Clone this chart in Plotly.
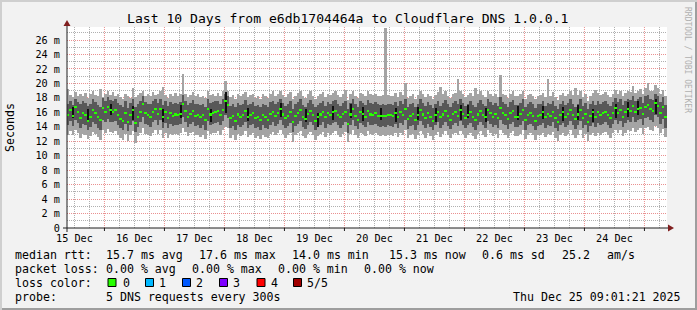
import plotly.graph_objects as go
import pandas as pd

# ---------------- data (hourly buckets, milliseconds) ----------------
median = [
    15.6, 16.3, 15.5, 16.8, 16.0, 15.2, 15.9, 15.6, 14.8, 15.4, 16.3, 15.9,
    15.3, 14.9, 16.6, 16.0, 16.8, 16.3, 16.1, 16.3, 15.6, 15.1, 14.8, 15.9,
    14.6, 15.6, 16.3, 14.5, 15.4, 16.0, 17.2, 15.9, 15.6, 15.4, 16.1, 16.5,
    15.8, 16.4, 15.3, 16.0, 15.2, 15.9, 15.5, 15.7, 15.6, 15.8, 17.1, 16.2,
    15.4, 15.8, 16.2, 15.5, 15.6, 15.3, 15.6, 14.9, 16.4, 15.7, 15.9, 16.0,
    16.2, 15.6, 16.3, 17.6, 17.0, 15.2, 15.5, 14.8, 15.7, 15.4, 15.6, 16.2,
    15.3, 15.6, 15.9, 15.2, 15.4, 14.9, 15.6, 15.3, 15.0, 15.8, 16.1, 15.5,
    15.9, 16.4, 15.7, 15.2, 15.5, 16.0, 14.6, 15.5, 15.9, 16.3, 15.4, 15.1,
    15.8, 16.2, 15.6, 14.8, 15.4, 15.7, 16.1, 15.3, 15.9, 15.6, 16.0, 16.2,
    15.6, 15.3, 15.8, 16.1, 14.4, 15.7, 16.4, 15.5, 15.0, 16.0, 15.8, 15.4,
    16.2, 15.7, 15.6, 15.9, 15.5, 15.5, 15.5, 15.5, 15.6, 15.6, 15.5, 15.9,
    15.3, 16.0, 15.6, 16.4, 15.1, 15.5, 15.8, 14.9, 15.6, 16.3, 15.7, 15.2,
    15.9, 15.4, 14.8, 15.6, 16.1, 15.3, 15.7, 16.2, 15.5, 15.0, 15.8, 16.0,
    15.5, 16.3, 15.8, 15.2, 15.6, 16.0, 15.4, 14.9, 15.7, 16.2, 15.6, 15.3,
    16.3, 15.9, 15.4, 15.8, 15.2, 16.6, 15.9, 15.6, 15.1, 15.9, 16.2, 15.4,
    15.4, 15.8, 16.3, 15.0, 15.6, 15.9, 15.5, 14.8, 15.5, 15.6, 16.0, 15.3,
    15.8, 15.5, 16.1, 15.2, 14.7, 15.6, 16.0, 15.4, 15.8, 16.3, 15.6, 15.1,
    15.7, 16.3, 15.2, 15.8, 14.6, 15.5, 16.0, 15.3, 16.0, 15.6, 15.9, 16.1,
    15.6, 15.2, 15.9, 16.6, 15.9, 16.3, 15.3, 16.0, 16.5, 16.2, 16.9, 16.1,
    16.4, 16.6, 15.8, 16.8, 17.0, 16.5, 16.2, 17.3, 16.9, 15.9, 16.7, 15.3,
]
inner_high = [
    17.2, 17.6, 17.0, 17.9, 17.4, 17.1, 17.5, 17.3, 16.9, 17.2, 17.8, 17.4,
    17.0, 16.8, 18.0, 17.5, 18.1, 17.7, 17.6, 17.8, 17.3, 17.0, 16.7, 17.5,
    16.6, 17.3, 17.9, 16.8, 17.1, 17.6, 18.3, 17.4, 17.2, 17.1, 17.6, 17.9,
    17.3, 17.8, 17.0, 17.5, 16.9, 17.4, 17.1, 17.3, 17.2, 17.4, 18.4, 17.6,
    17.0, 17.3, 17.7, 17.1, 17.2, 17.0, 17.2, 16.8, 17.8, 17.3, 17.4, 17.5,
    17.6, 17.2, 17.8, 18.6, 18.2, 16.9, 17.1, 16.7, 17.3, 17.0, 17.2, 17.7,
    17.0, 17.2, 17.4, 16.9, 17.0, 16.7, 17.2, 17.0, 16.8, 17.4, 17.6, 17.1,
    17.4, 17.8, 17.3, 16.9, 17.1, 17.5, 16.5, 17.1, 17.4, 17.8, 17.0, 16.8,
    17.3, 17.7, 17.2, 16.7, 17.0, 17.3, 17.6, 16.9, 17.4, 17.2, 17.5, 17.7,
    17.2, 16.9, 17.3, 17.6, 16.4, 17.3, 17.9, 17.1, 16.8, 17.5, 17.3, 17.0,
    17.7, 17.3, 17.2, 17.4, 17.1, 17.0, 17.1, 17.0, 17.2, 17.1, 17.0, 17.4,
    16.9, 17.5, 17.2, 17.9, 16.8, 17.1, 17.3, 16.7, 17.2, 17.8, 17.3, 16.9,
    17.4, 17.0, 16.6, 17.2, 17.6, 16.9, 17.3, 17.7, 17.1, 16.8, 17.3, 17.5,
    17.1, 17.8, 17.3, 16.9, 17.2, 17.5, 17.0, 16.7, 17.3, 17.7, 17.2, 16.9,
    17.8, 17.4, 17.0, 17.3, 16.9, 18.1, 17.4, 17.2, 16.8, 17.4, 17.7, 17.0,
    17.0, 17.3, 17.8, 16.7, 17.2, 17.4, 17.1, 16.6, 17.1, 17.2, 17.5, 16.9,
    17.3, 17.1, 17.6, 16.9, 16.5, 17.2, 17.5, 17.0, 17.3, 17.8, 17.2, 16.8,
    17.2, 17.8, 16.9, 17.3, 16.4, 17.1, 17.5, 17.0, 17.5, 17.2, 17.4, 17.6,
    17.2, 16.9, 17.4, 18.0, 17.4, 17.8, 17.0, 17.5, 17.9, 17.7, 18.3, 17.6,
    17.9, 18.1, 17.3, 18.2, 18.4, 17.9, 17.7, 18.6, 18.3, 17.4, 18.1, 17.0,
]
inner_low = [
    14.2, 14.8, 14.1, 15.0, 14.5, 13.8, 14.4, 14.2, 13.6, 14.0, 14.7, 14.4,
    13.9, 13.6, 15.0, 14.6, 15.1, 14.7, 14.6, 14.8, 14.2, 13.8, 13.5, 14.4,
    13.4, 14.2, 14.8, 13.3, 14.0, 14.6, 15.4, 14.4, 14.2, 14.0, 14.6, 14.9,
    14.3, 14.9, 13.9, 14.5, 13.8, 14.4, 14.1, 14.3, 14.2, 14.4, 15.3, 14.7,
    14.0, 14.4, 14.7, 14.1, 14.2, 13.9, 14.2, 13.6, 14.8, 14.3, 14.4, 14.5,
    14.7, 14.2, 14.8, 15.6, 15.2, 13.8, 14.1, 13.5, 14.3, 14.0, 14.2, 14.7,
    13.9, 14.2, 14.4, 13.8, 14.0, 13.6, 14.2, 13.9, 13.7, 14.3, 14.6, 14.1,
    14.4, 14.9, 14.3, 13.8, 14.1, 14.5, 13.3, 14.1, 14.4, 14.8, 14.0, 13.7,
    14.3, 14.7, 14.2, 13.5, 14.0, 14.3, 14.6, 13.9, 14.4, 14.2, 14.5, 14.7,
    14.2, 13.9, 14.3, 14.6, 13.2, 14.3, 14.9, 14.1, 13.7, 14.5, 14.3, 14.0,
    14.7, 14.3, 14.2, 14.4, 14.1, 14.0, 14.1, 14.0, 14.2, 14.1, 14.0, 14.4,
    13.9, 14.5, 14.2, 14.9, 13.7, 14.1, 14.3, 13.6, 14.2, 14.8, 14.3, 13.8,
    14.4, 14.0, 13.5, 14.2, 14.6, 13.9, 14.3, 14.7, 14.1, 13.7, 14.3, 14.5,
    14.1, 14.8, 14.3, 13.8, 14.2, 14.5, 14.0, 13.6, 14.3, 14.7, 14.2, 13.9,
    14.8, 14.4, 14.0, 14.3, 13.8, 15.0, 14.4, 14.2, 13.7, 14.4, 14.7, 14.0,
    14.0, 14.3, 14.8, 13.6, 14.2, 14.4, 14.1, 13.5, 14.1, 14.2, 14.5, 13.9,
    14.3, 14.1, 14.6, 13.8, 13.4, 14.2, 14.5, 14.0, 14.3, 14.8, 14.2, 13.7,
    14.2, 14.8, 13.8, 14.3, 13.3, 14.1, 14.5, 14.0, 14.5, 14.2, 14.4, 14.6,
    14.2, 13.8, 14.4, 15.0, 14.4, 14.8, 14.0, 14.5, 14.9, 14.7, 15.3, 14.6,
    14.9, 15.1, 14.3, 15.2, 15.4, 14.9, 14.7, 15.6, 15.3, 14.4, 15.1, 13.9,
]
outer_high = [
    19.2, 18.4, 18.1, 18.8, 18.3, 18.6, 18.2, 18.7, 18.0, 18.5, 18.9, 18.4,
    18.3, 19.2, 18.1, 18.6, 18.9, 18.4, 18.8, 18.2, 18.5, 18.1, 17.9, 18.6,
    18.2, 18.0, 19.3, 18.1, 18.4, 18.7, 18.9, 18.3, 18.6, 18.2, 18.8, 18.4,
    18.5, 18.9, 19.5, 18.4, 18.0, 18.6, 18.3, 18.7, 18.2, 18.5, 21.3, 18.6,
    18.1, 18.4, 18.8, 18.2, 18.5, 18.1, 18.3, 18.0, 18.9, 18.4, 18.6, 18.3,
    18.7, 18.2, 18.9, 20.3, 19.0, 18.1, 18.4, 17.9, 18.5, 18.2, 18.6, 18.8,
    18.1, 18.4, 18.6, 18.0, 18.3, 17.9, 18.5, 18.2, 18.0, 18.6, 18.9, 18.3,
    18.6, 19.0, 18.4, 18.1, 18.5, 18.8, 17.8, 18.3, 18.7, 19.0, 18.3, 18.0,
    18.5, 18.9, 18.3, 17.9, 18.2, 18.6, 18.8, 18.1, 18.5, 18.4, 18.7, 18.9,
    18.4, 18.1, 18.5, 19.1, 17.7, 18.6, 19.0, 18.3, 18.0, 18.7, 18.5, 18.2,
    18.9, 18.5, 18.4, 18.6, 18.3, 18.2, 18.4, 27.7, 18.4, 18.3, 18.2, 18.7,
    18.1, 18.8, 18.4, 20.0, 18.0, 18.3, 18.6, 17.9, 18.4, 18.9, 18.5, 18.1,
    18.6, 18.2, 17.8, 18.4, 18.8, 19.5, 18.5, 18.9, 18.3, 18.0, 18.5, 18.7,
    20.6, 18.9, 18.5, 18.1, 18.4, 18.7, 18.2, 19.4, 18.5, 18.9, 18.4, 18.1,
    18.9, 18.6, 18.2, 18.5, 18.1, 21.1, 18.6, 18.4, 18.0, 18.6, 18.9, 18.2,
    18.2, 18.5, 19.0, 17.9, 18.4, 18.6, 18.3, 17.8, 18.3, 18.4, 18.7, 18.1,
    20.6, 18.3, 18.8, 18.1, 17.7, 18.4, 18.7, 18.2, 18.5, 19.0, 18.4, 19.4,
    18.4, 18.9, 18.1, 18.5, 17.6, 18.3, 18.7, 19.1, 18.7, 18.4, 18.6, 18.8,
    18.4, 18.1, 18.6, 19.1, 18.6, 18.9, 18.2, 18.7, 19.0, 18.8, 19.6, 18.7,
    19.0, 19.2, 18.5, 19.3, 20.0, 19.0, 18.9, 19.8, 19.4, 18.6, 19.1, 18.2,
]
outer_low = [
    12.9, 13.4, 12.8, 13.5, 13.1, 12.5, 13.0, 12.8, 12.3, 12.7, 13.3, 13.0,
    12.6, 12.2, 13.6, 13.2, 13.7, 13.3, 13.2, 13.4, 12.9, 12.5, 12.2, 13.0,
    12.0, 12.9, 13.4, 11.8, 12.7, 13.2, 13.9, 13.0, 12.8, 12.7, 13.2, 13.5,
    13.0, 13.5, 12.5, 13.1, 12.5, 13.0, 12.8, 13.0, 12.9, 13.1, 13.8, 13.3,
    12.7, 13.1, 13.3, 12.8, 12.9, 12.6, 12.9, 12.3, 13.4, 13.0, 13.1, 13.2,
    13.4, 12.9, 13.5, 14.0, 13.8, 12.5, 12.8, 12.2, 13.0, 12.7, 12.9, 13.4,
    12.6, 12.9, 13.1, 12.5, 12.7, 12.3, 12.9, 12.6, 12.4, 13.0, 13.3, 12.8,
    13.1, 13.5, 13.0, 12.5, 12.8, 13.2, 11.9, 12.8, 13.1, 13.4, 12.7, 12.4,
    13.0, 13.3, 12.9, 12.2, 12.7, 13.0, 13.3, 12.6, 13.1, 12.9, 13.2, 13.4,
    12.9, 12.6, 13.0, 13.3, 11.9, 13.0, 13.5, 12.8, 12.4, 13.2, 13.0, 12.7,
    13.4, 13.0, 12.9, 13.1, 12.8, 12.7, 12.8, 12.7, 12.9, 12.8, 12.7, 13.1,
    12.6, 13.2, 12.9, 13.5, 12.4, 12.8, 13.0, 12.3, 12.9, 13.4, 13.0, 12.5,
    13.1, 12.7, 12.2, 12.9, 13.3, 12.6, 13.0, 13.4, 12.8, 12.4, 13.0, 13.2,
    12.8, 13.4, 13.0, 12.5, 12.9, 13.2, 12.7, 12.3, 13.0, 13.4, 12.9, 12.6,
    13.5, 13.1, 12.7, 13.0, 12.5, 13.6, 13.1, 12.9, 12.4, 13.1, 13.4, 12.7,
    12.7, 13.0, 13.5, 12.3, 12.9, 13.1, 12.8, 12.2, 12.8, 12.9, 13.2, 12.6,
    13.0, 12.8, 13.3, 12.5, 12.1, 12.9, 13.2, 12.7, 13.0, 13.5, 12.9, 12.4,
    12.9, 13.5, 12.5, 13.0, 12.0, 12.8, 13.2, 12.7, 13.2, 12.9, 13.1, 13.3,
    12.9, 12.5, 13.1, 13.6, 13.1, 13.5, 12.7, 13.2, 13.6, 13.4, 13.9, 13.3,
    13.6, 13.8, 13.0, 13.8, 14.0, 13.6, 13.4, 14.1, 13.9, 13.1, 13.7, 12.6,
]
# dark vertical strokes (bucket index, low, high)
stroke_idx = [2, 8, 17, 26, 38, 45, 57, 63, 72, 85, 95, 100, 106, 113, 118,
              125, 131, 140, 147, 157, 160, 167, 180, 190, 198, 204, 210, 219,
              224, 228, 235]
stroke_low = [15.2, 14.8, 15.6, 15.0, 14.6, 15.2, 14.6, 15.9, 14.8, 15.4, 14.6,
              14.0, 15.0, 15.2, 14.8, 14.9, 14.6, 15.0, 14.7, 15.0, 15.2, 14.7,
              14.9, 15.1, 14.8, 15.0, 14.7, 15.2, 15.3, 15.6, 15.8]
stroke_high = [16.8, 16.4, 17.2, 16.9, 16.5, 17.0, 16.4, 18.8, 16.6, 17.3, 16.5,
               15.9, 16.9, 17.1, 16.7, 16.6, 16.6, 16.8, 16.6, 17.0, 17.0, 16.6,
               16.9, 16.9, 16.7, 17.0, 16.5, 17.1, 17.4, 17.6, 17.9]

day_labels = ["15 Dec", "16 Dec", "17 Dec", "18 Dec", "19 Dec",
              "20 Dec", "21 Dec", "22 Dec", "23 Dec", "24 Dec"]
y_ticks = [0, 2, 4, 6, 8, 10, 12, 14, 16, 18, 20, 22, 24, 26]
y_text = ["0"] + [f"{v} m" for v in y_ticks[1:]]

loss_names = ["0", "1", "2", "3", "4", "5/5"]
loss_colors = ["#26ff00", "#00b8ff", "#0059ff", "#7e00ff", "#ff0000", "#a10000"]

# ---------------- geometry helpers ----------------
W, H = 697, 310
PL, PR, PT, PB = 67, 667, 27, 228
def fx(px):
    return (px - PL) / (PR - PL)
def fy(py):
    return (PB - py) / (PB - PT)

t_start = pd.Timestamp("2025-12-15 09:01:21")
t_end = pd.Timestamp("2025-12-25 09:01:21")
times = pd.date_range("2025-12-15 09:30:00", periods=len(median), freq="h")
HOUR = 3600 * 1000

fig = go.Figure()
n = len(median)
fig.add_trace(go.Bar(x=times, base=outer_low,
                     y=[outer_high[i] - outer_low[i] for i in range(n)],
                     width=HOUR, marker=dict(color="#a4a4a4", line=dict(width=0)),
                     hoverinfo="skip"))
fig.add_trace(go.Bar(x=times, base=inner_low,
                     y=[inner_high[i] - inner_low[i] for i in range(n)],
                     width=HOUR, marker=dict(color="#585858", line=dict(width=0)),
                     hoverinfo="skip"))
fig.add_trace(go.Bar(x=[times[i] for i in stroke_idx], base=stroke_low,
                     y=[stroke_high[k] - stroke_low[k] for k in range(len(stroke_idx))],
                     width=HOUR * 0.45, marker=dict(color="#101010", line=dict(width=0)),
                     hoverinfo="skip"))
fig.add_trace(go.Bar(x=times, base=[v - 0.14 for v in median], y=[0.28] * n,
                     width=HOUR, marker=dict(color=loss_colors[0], line=dict(width=0)),
                     hoverinfo="skip"))

# grid helpers (positions only)
days = pd.date_range("2025-12-16", periods=10, freq="D")
noons = pd.date_range("2025-12-15 12:00", periods=10, freq="D")
minor_x = [d + pd.Timedelta(hours=h) for d in pd.date_range("2025-12-15", periods=11, freq="D")
           for h in (6, 12, 18)]

GRID = "#b0b0b0"
MGRID = "#ea9090"
FONT = "DejaVu Sans Mono"

fig.update_layout(
    width=W, height=H,
    margin=dict(l=PL, r=W - PR, t=PT, b=H - PB, pad=0),
    paper_bgcolor="#f2f2f2", plot_bgcolor="#ffffff",
    barmode="overlay", bargap=0, showlegend=False,
    font=dict(family=FONT, size=11.6, color="#000000"),
    xaxis=dict(range=[t_start, t_end], type="date", showgrid=False, zeroline=False,
               showline=False, tickmode="array", tickvals=list(noons), ticktext=day_labels,
               ticks="", tickfont=dict(size=10.2, family=FONT, color="#000000"),
               ticklabelstandoff=3,
               minor=dict(tickmode="array", tickvals=minor_x, showgrid=True,
                          gridcolor=GRID, griddash="1px,1px", gridwidth=1, ticks="")),
    yaxis=dict(range=[0, 27.8], showgrid=True, gridcolor=MGRID, griddash="1px,1px",
               gridwidth=1, zeroline=False, showline=False, tickmode="array",
               tickvals=y_ticks, ticktext=y_text, ticks="",
               tickfont=dict(size=10.2, family=FONT, color="#000000"), ticklabelstandoff=6,
               minor=dict(dtick=1, tick0=0, showgrid=True, gridcolor=GRID,
                          griddash="1px,1px", gridwidth=1, ticks="")),
)

shapes = []
# major (midnight) vertical grid lines
for d in days:
    shapes.append(dict(type="line", xref="x", yref="paper", x0=d, x1=d, y0=0, y1=1,
                       layer="below", line=dict(color=MGRID, width=1, dash="1px,1px")))
# axes
AX = "#1f1f1f"
ARROW = "#801f1f"
shapes.append(dict(type="line", xref="paper", yref="paper", x0=fx(63), x1=fx(671),
                   y0=fy(228), y1=fy(228), line=dict(color=AX, width=1)))
shapes.append(dict(type="line", xref="paper", yref="paper", x0=fx(67), x1=fx(67),
                   y0=fy(232), y1=fy(22), line=dict(color=AX, width=1)))
shapes.append(dict(type="path", xref="paper", yref="paper",
                   path=f"M {fx(668)} {fy(224.5)} L {fx(674)} {fy(228)} L {fx(668)} {fy(231.5)} Z",
                   fillcolor=ARROW, line=dict(width=0)))
shapes.append(dict(type="path", xref="paper", yref="paper",
                   path=f"M {fx(63.5)} {fy(26)} L {fx(67)} {fy(20)} L {fx(70.5)} {fy(26)} Z",
                   fillcolor=ARROW, line=dict(width=0)))
# small ticks at midnights on x axis
for d in days:
    shapes.append(dict(type="line", xref="x", yref="paper", x0=d, x1=d,
                       y0=fy(228), y1=fy(231), line=dict(color=AX, width=1)))
# frame
SA, SB = "#cfcfcf", "#9e9e9e"
shapes += [
    dict(type="rect", xref="paper", yref="paper", x0=fx(0), x1=fx(W), y0=fy(0), y1=fy(2),
         fillcolor=SA, line=dict(width=0), layer="below"),
    dict(type="rect", xref="paper", yref="paper", x0=fx(0), x1=fx(2), y0=fy(0), y1=fy(H),
         fillcolor=SA, line=dict(width=0), layer="below"),
    dict(type="rect", xref="paper", yref="paper", x0=fx(2), x1=fx(W), y0=fy(H - 2), y1=fy(H),
         fillcolor=SB, line=dict(width=0), layer="below"),
    dict(type="rect", xref="paper", yref="paper", x0=fx(W - 2), x1=fx(W), y0=fy(2), y1=fy(H),
         fillcolor=SB, line=dict(width=0), layer="below"),
]
# loss colour boxes
box_left = [108, 145.5, 182.5, 219.5, 257, 293.5]
for c, bx in zip(loss_colors, box_left):
    shapes.append(dict(type="rect", xref="paper", yref="paper", x0=fx(bx), x1=fx(bx + 8),
                       y0=fy(278.5), y1=fy(286.5), fillcolor=c,
                       line=dict(color="#000000", width=1)))
fig.update_layout(shapes=shapes)

ann = []
def text(s, x, y, size=11.6, anchor="left", color="#000000", angle=0):
    ann.append(dict(text=s, x=fx(x), y=fy(y), xref="paper", yref="paper",
                    xanchor=anchor, yanchor="middle", showarrow=False,
                    borderpad=0, borderwidth=0, textangle=angle,
                    font=dict(family=FONT, size=size, color=color)))

text("Last 10 Days from e6db1704464a to Cloudflare DNS 1.0.0.1", 347, 19,
     size=13.1, anchor="center")
text("RRDTOOL / TOBI OETIKER", 688, 60, size=8, anchor="center", color="#b0b0b0", angle=90)
text("Seconds", 10, 128, size=11.6, anchor="center", angle=-90)

row1 = [("median rtt:", 16), ("15.7 ms avg", 107), ("17.6 ms max", 200),
        ("14.0 ms min", 293), ("15.3 ms now", 390), ("0.6 ms sd", 483),
        ("25.2", 563), ("am/s", 608)]
row2 = [("packet loss:", 16), ("0.00 % avg", 107), ("0.00 % max", 193),
        ("0.00 % min", 279), ("0.00 % now", 365)]
for s, x in row1:
    text(s, x - 1, 254.5)
for s, x in row2:
    text(s, x - 1, 268.5)
text("loss color:", 15, 282.5)
lbl_x = [124, 160, 197, 234, 271.5, 308]
for s, x in zip(loss_names, lbl_x):
    text(s, x - 1, 282.5)
text("probe:", 15, 296.5)
text("5 DNS requests every 300s", 106, 296.5)
text("Thu Dec 25 09:01:21 2025", 681, 296.5, anchor="right")

fig.update_layout(annotations=ann)
fig.write_html("out.html")
